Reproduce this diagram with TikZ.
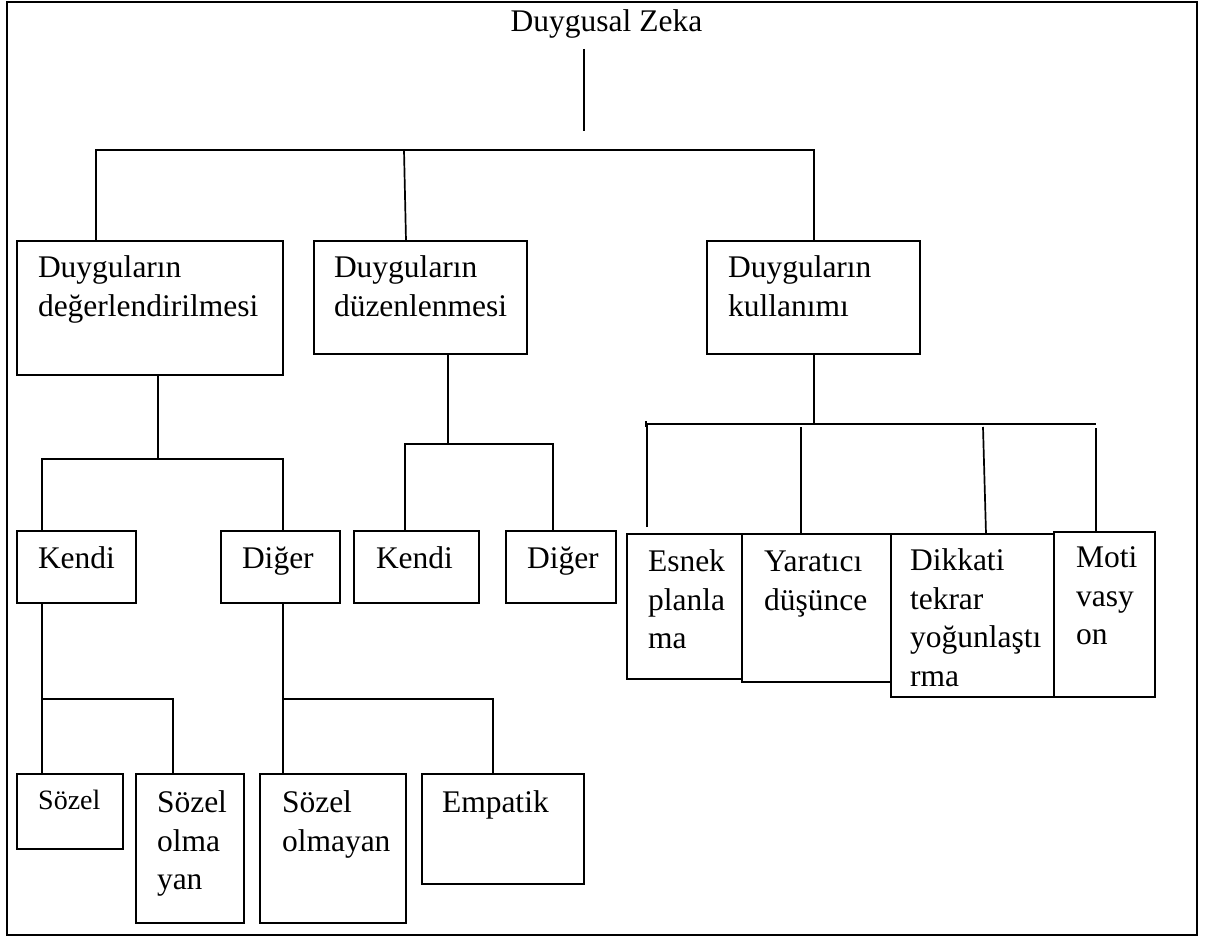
\documentclass[tikz,border=0pt]{standalone}
\usepackage{fontspec}
\setmainfont{Liberation Serif}
\newcommand\fnt{\fontsize{31.5}{38.5}\selectfont}
\newcommand\fntsmall{\fontsize{28}{34}\selectfont}
\begin{document}
\begin{tikzpicture}[x=1pt,y=-1pt,
  box/.style={draw, line width=2pt, rectangle, anchor=north west, inner sep=0pt, outer sep=0pt},
  lbl/.style={anchor=north west, inner sep=0pt, outer sep=0pt, align=left, font=\fnt},
  conn/.style={line width=1.7pt},
  frame/.style={line width=2.6pt}]
\useasboundingbox (0,0) rectangle (1212,936);
\draw[frame] (7,2) rectangle (1197,935);

% title
\node[font=\fnt, anchor=base, inner sep=0pt] (root) at (606.5,32) {Duygusal Zeka};

% boxes
\node[box, minimum width=266pt, minimum height=134pt] (b1) at (17,241) {};
\node[box, minimum width=213pt, minimum height=113pt] (b2) at (314,241) {};
\node[box, minimum width=213pt, minimum height=113pt] (b3) at (707,241) {};
\node[box, minimum width=119pt, minimum height=72pt] (k1) at (17,531) {};
\node[box, minimum width=119pt, minimum height=72pt] (d1) at (221,531) {};
\node[box, minimum width=125pt, minimum height=72pt] (k2) at (354,531) {};
\node[box, minimum width=110pt, minimum height=72pt] (d2) at (506,531) {};
\node[box, minimum width=115pt, minimum height=145pt] (e1) at (627,534) {};
\node[box, minimum width=149pt, minimum height=148pt] (e2) at (742,534) {};
\node[box, minimum width=163pt, minimum height=163pt] (e3) at (891,534) {};
\node[box, minimum width=101pt, minimum height=165pt] (e4) at (1054,532) {};
\node[box, minimum width=106pt, minimum height=75pt] (s1) at (17,774) {};
\node[box, minimum width=108pt, minimum height=149pt] (s2) at (136,774) {};
\node[box, minimum width=146pt, minimum height=149pt] (s3) at (260,774) {};
\node[box, minimum width=162pt, minimum height=110pt] (s4) at (422,774) {};

% texts
\node[lbl] (tb1) at ([shift={(21,10)}]b1.north west) {\strut Duyguların\\değerlendirilmesi};
\node[lbl] (tb2) at ([shift={(20,10)}]b2.north west) {\strut Duyguların\\düzenlenmesi};
\node[lbl] (tb3) at ([shift={(21,10)}]b3.north west) {\strut Duyguların\\kullanımı};
\node[lbl] (tk1) at ([shift={(21,11)}]k1.north west) {\strut Kendi};
\node[lbl] (td1) at ([shift={(21,11)}]d1.north west) {\strut Diğer};
\node[lbl] (tk2) at ([shift={(22,11)}]k2.north west) {\strut Kendi};
\node[lbl] (td2) at ([shift={(21,11)}]d2.north west) {\strut Diğer};
\node[lbl] (te1) at ([shift={(21,11)}]e1.north west) {\strut Esnek\\planla\\ma};
\node[lbl] (te2) at ([shift={(22,11)}]e2.north west) {\strut Yaratıcı\\düşünce};
\node[lbl] (te3) at ([shift={(19,10)}]e3.north west) {\strut Dikkati\\tekrar\\yoğunlaştı\\rma};
\node[lbl] (te4) at ([shift={(22,9)}]e4.north west) {\strut Moti\\vasy\\on};
\node[font=\fntsmall, anchor=base west, inner sep=0pt] (ts1) at ([shift={(21,35)}]s1.north west) {Sözel};
\node[lbl] (ts2) at ([shift={(21,12)}]s2.north west) {\strut Sözel\\olma\\yan};
\node[lbl] (ts3) at ([shift={(22,12)}]s3.north west) {\strut Sözel\\olmayan};
\node[lbl] (ts4) at ([shift={(20,12)}]s4.north west) {\strut Empatik};

% connectors: level 1
\draw[conn] ([shift={(-22.5,10)}]root.south) -- ++(0,82);
\draw[conn] ([xshift=79pt]b1.north west) -- ++(0,-91) -| ([xshift=107pt]b3.north west);
\draw[conn] ([xshift=92pt]b2.north west) -- ++(-2,-91);

% under b1
\draw[conn] ([xshift=141pt]b1.south west) -- ++(0,84);
\draw[conn] ([xshift=25pt]k1.north west) -- ++(0,-72) -| ([xshift=62pt]d1.north west);

% under b2
\draw[conn] ([xshift=134pt]b2.south west) -- ++(0,90);
\draw[conn] ([xshift=51pt]k2.north west) -- ++(0,-87) -| ([xshift=47pt]d2.north west);

% under b3
\draw[conn] ([xshift=107pt]b3.south west) -- ++(0,70);
\draw[conn] ([shift={(20,-7)}]e1.north west) |- ([shift={(42,-108)}]e4.north west);
\draw[conn] ([shift={(19,-113)}]e1.north west) -- ++(0,6);
\draw[conn] ([xshift=59pt]e2.north west) -- ++(0,-107);
\draw[conn] ([xshift=95pt]e3.north west) -- ++(-3,-107);
\draw[conn] ([xshift=42pt]e4.north west) -- ++(0,-104);

% under k1
\draw[conn] ([xshift=25pt]k1.south west) -- ([xshift=25pt]s1.north west);
\draw[conn] ([xshift=25pt]k1.south west) ++(0,96) -| ([xshift=37pt]s2.north west);

% under d1
\draw[conn] ([xshift=62pt]d1.south west) -- ([xshift=23pt]s3.north west);
\draw[conn] ([xshift=62pt]d1.south west) ++(0,96) -| ([xshift=71pt]s4.north west);
\end{tikzpicture}
\end{document}
